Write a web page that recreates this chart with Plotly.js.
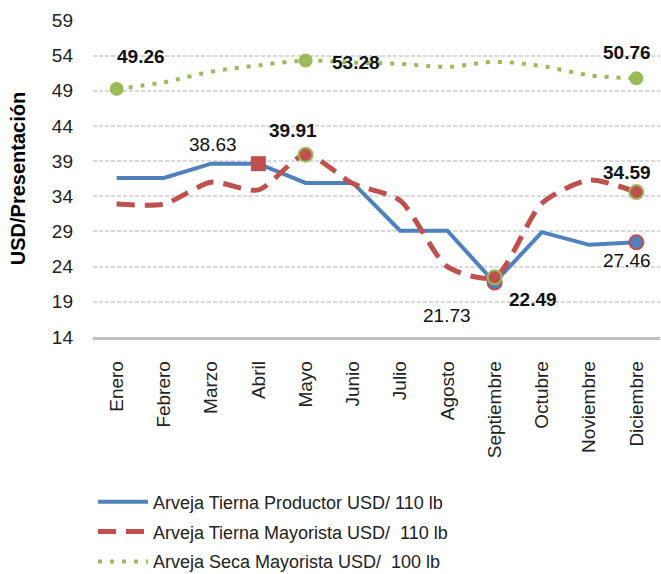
<!DOCTYPE html>
<html>
<head>
<meta charset="utf-8">
<script src="https://cdn.plot.ly/plotly-3.0.1.min.js"></script>
<style>html,body{margin:0;padding:0;background:#fff}#chart{width:661px;height:574px}</style>
</head>
<body>
<div id="chart"></div>
<script>
var months = ['Enero','Febrero','Marzo','Abril','Mayo','Junio','Julio','Agosto','Septiembre','Octubre','Noviembre','Diciembre'];
var productor = [36.6, 36.6, 38.63, 38.63, 35.9, 35.9, 29.1, 29.1, 21.73, 28.9, 27.1, 27.46];
var mayorista = [32.9, 32.9, 36.0, 34.9, 39.91, 35.8, 33.4, 24.0, 22.49, 33.0, 36.3, 34.59];
var seca = [49.26, 50.2, 51.7, 52.6, 53.28, 53.0, 52.8, 52.4, 53.1, 52.5, 51.2, 50.76];
var seriesNames = ['Arveja Tierna Productor USD/ 110 lb', 'Arveja Tierna Mayorista USD/  110 lb', 'Arveja Seca Mayorista USD/  100 lb'];
var yTicks = [14, 19, 24, 29, 34, 39, 44, 49, 54, 59];

var BLUE = '#4F81BD', RED = '#C0504D', GREEN = '#9BBB59';
var FONT = 'Liberation Sans, Arial, sans-serif';

function pick(arr, idx) { return idx.map(function (i) { return arr[i]; }); }
function cats(idx) { return idx.map(function (i) { return months[i]; }); }

var traces = [
  {x: months, y: productor, name: seriesNames[0], mode: 'lines', legendgroup: 'a',
   line: {color: BLUE, width: 4}},
  {x: months, y: mayorista, name: seriesNames[1], mode: 'lines', legendgroup: 'b',
   line: {color: RED, width: 5, dash: '18px,10px', shape: 'spline', smoothing: 0.7}},
  {x: months, y: seca, name: seriesNames[2], mode: 'lines', legendgroup: 'c',
   line: {color: GREEN, width: 4, dash: '4px,8px', shape: 'spline', smoothing: 1}}
];

// highlighted points
var blueIdx = [8, 11], redIdx = [4, 8, 11], greenIdx = [0, 4, 11], squareIdx = [3];
traces.push({x: cats(blueIdx), y: pick(productor, blueIdx), mode: 'markers', showlegend: false, hoverinfo: 'skip',
  marker: {color: BLUE, size: 14, line: {color: RED, width: 2}}});
traces.push({x: cats(squareIdx), y: pick(productor, squareIdx), mode: 'markers', showlegend: false, hoverinfo: 'skip',
  marker: {color: RED, size: 15, symbol: 'square'}});
traces.push({x: cats(redIdx), y: pick(mayorista, redIdx), mode: 'markers', showlegend: false, hoverinfo: 'skip',
  marker: {color: RED, size: 14, line: {color: GREEN, width: 2}}});
traces.push({x: cats(greenIdx), y: pick(seca, greenIdx), mode: 'markers', showlegend: false, hoverinfo: 'skip',
  marker: {color: GREEN, size: 14}});

// data labels: [series, index, bold, xshift, yshift]
var labelSpecs = [
  [seca, 0, true, 24, 32],
  [seca, 4, true, 50, -2],
  [seca, 11, true, -9, 26],
  [productor, 2, false, 2, 19],
  [mayorista, 4, true, -13, 24],
  [mayorista, 11, true, -9, 20],
  [productor, 11, false, -9, -18],
  [productor, 8, false, -48, -33],
  [mayorista, 8, true, 38, -22]
];
var annotations = labelSpecs.map(function (s) {
  var v = s[0][s[1]];
  var t = v.toFixed(2);
  return {x: months[s[1]], y: v, xref: 'x', yref: 'y', text: s[2] ? '<b>' + t + '</b>' : t,
    showarrow: false, xshift: s[3], yshift: s[4],
    font: {family: FONT, size: 19, color: '#111'}};
});

var layout = {
  width: 661, height: 574,
  margin: {l: 93, r: 1, t: 20, b: 237, autoexpand: false},
  paper_bgcolor: '#fff', plot_bgcolor: '#fff',
  showlegend: true,
  legend: {x: 0, xanchor: 'left', y: -0.462, yanchor: 'top', traceorder: 'grouped', tracegroupgap: 3.5,
    itemwidth: 50, font: {family: FONT, size: 18, color: '#222'}, bgcolor: 'rgba(0,0,0,0)'},
  xaxis: {type: 'category', range: [-0.5, 11.5], tickangle: -90, showgrid: false,
    showline: true, linecolor: '#BFBFBF', linewidth: 2.5, ticks: '', ticklabelstandoff: 14,
    tickfont: {family: FONT, size: 19, color: '#222'}, fixedrange: true},
  yaxis: {range: [14, 59.05], tickvals: yTicks, ticktext: yTicks.map(String), showline: false, zeroline: false,
    showgrid: true, gridcolor: '#D9D9D9', gridwidth: 2, griddash: '4px,2px', ticks: '', ticklabelstandoff: 19,
    tickfont: {family: FONT, size: 19, color: '#222'},
    title: {text: '<b>USD/Presentación</b>', font: {family: FONT, size: 20, color: '#000'}, standoff: 20},
    fixedrange: true},
  annotations: annotations
};

Plotly.newPlot('chart', traces, layout, {displayModeBar: false, staticPlot: true});
</script>
</body>
</html>
